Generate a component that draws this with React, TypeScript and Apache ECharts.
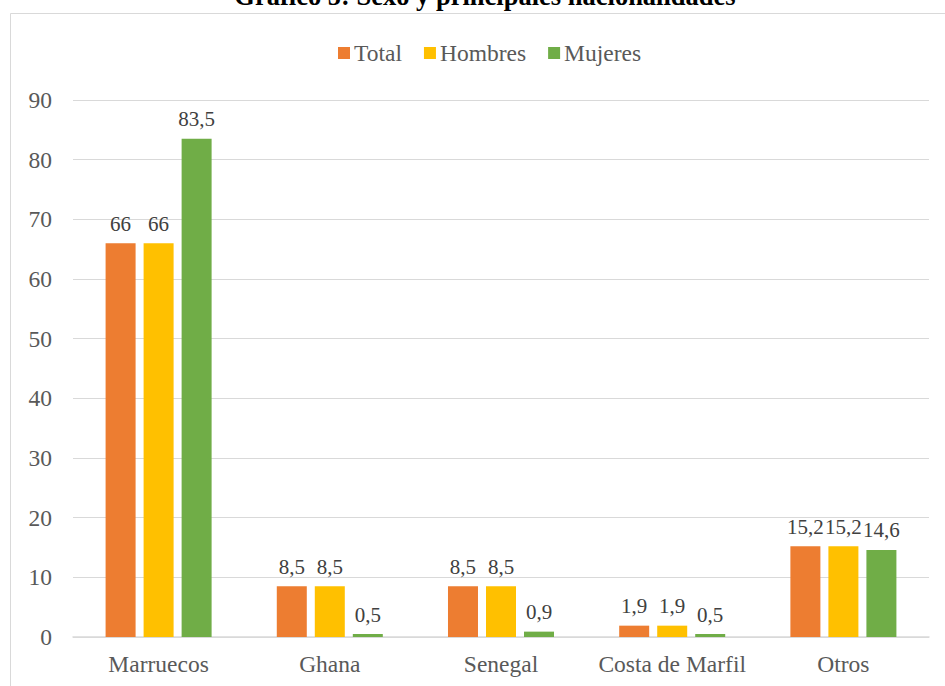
import React, { useEffect, useRef } from "react";
import * as echarts from "echarts";

const categories = ["Marruecos", "Ghana", "Senegal", "Costa de Marfil", "Otros"];
const totalValues = [66, 8.5, 8.5, 1.9, 15.2];
const hombresValues = [66, 8.5, 8.5, 1.9, 15.2];
const mujeresValues = [83.5, 0.5, 0.9, 0.5, 14.6];
const seriesNames = ["Total", "Hombres", "Mujeres"];
const colors = ["#ED7D31", "#FFC000", "#70AD47"];

const FONT = "Liberation Serif";
const FS = 23.5;
const LFS = 21;

export default function App() {
  const ref = useRef<HTMLDivElement>(null);
  useEffect(() => {
    if (!ref.current) return;
    const chart = echarts.init(ref.current, null, { renderer: "svg" });
    const fmt = (p: any) => String(p.value).replace(".", ",");
    const mk = (name: string, data: number[], color: string) => ({
      name,
      type: "bar",
      data,
      barWidth: 30,
      barGap: "26.7%",
      itemStyle: { color },
      label: {
        show: true,
        position: "top",
        distance: 9,
        formatter: fmt,
        fontFamily: FONT,
        fontSize: LFS,
        color: "#404040",
      },
    });
    chart.setOption({
      animation: false,
      graphic: [
        {
          type: "rect",
          shape: { x: 10.5, y: 13.5, width: 960, height: 700 },
          style: { fill: "none", stroke: "#d9d9d9", lineWidth: 1 },
          silent: true,
        },
        {
          type: "text",
          x: 485,
          y: 9,
          style: {
            text: "Gráfico 5: Sexo y principales nacionalidades",
            fontFamily: FONT,
            fontWeight: "bold",
            fontSize: 26.5,
            fill: "#000",
            textAlign: "center",
            textVerticalAlign: "bottom",
          },
        },
      ],
      legend: {
        data: seriesNames,
        top: 36,
        left: 333,
        itemWidth: 12,
        itemHeight: 12,
        itemGap: 22,
        icon: "rect",
        textStyle: { fontFamily: FONT, fontSize: FS, color: "#595959", padding: [0, 0, 0, -1] },
      },
      grid: { left: 73, right: 16, top: 100, bottom: 49, containLabel: false },
      xAxis: {
        type: "category",
        data: categories,
        axisLine: { lineStyle: { color: "#d9d9d9", width: 1.5 } },
        axisTick: { show: false },
        axisLabel: { interval: 0, fontFamily: FONT, fontSize: FS, color: "#595959", margin: 15 },
      },
      yAxis: {
        type: "value",
        min: 0,
        max: 90,
        interval: 10,
        axisLine: { show: false },
        axisTick: { show: false },
        splitLine: { lineStyle: { color: "#d9d9d9", width: 1 } },
        axisLabel: { fontFamily: FONT, fontSize: FS, color: "#595959", margin: 21 },
      },
      series: [
        mk(seriesNames[0], totalValues, colors[0]),
        mk(seriesNames[1], hombresValues, colors[1]),
        mk(seriesNames[2], mujeresValues, colors[2]),
      ],
    });
    return () => chart.dispose();
  }, []);
  return (
    <div
      ref={ref}
      style={{ position: "fixed", left: 0, top: 0, width: 945, height: 686, background: "#fff" }}
    />
  );
}
